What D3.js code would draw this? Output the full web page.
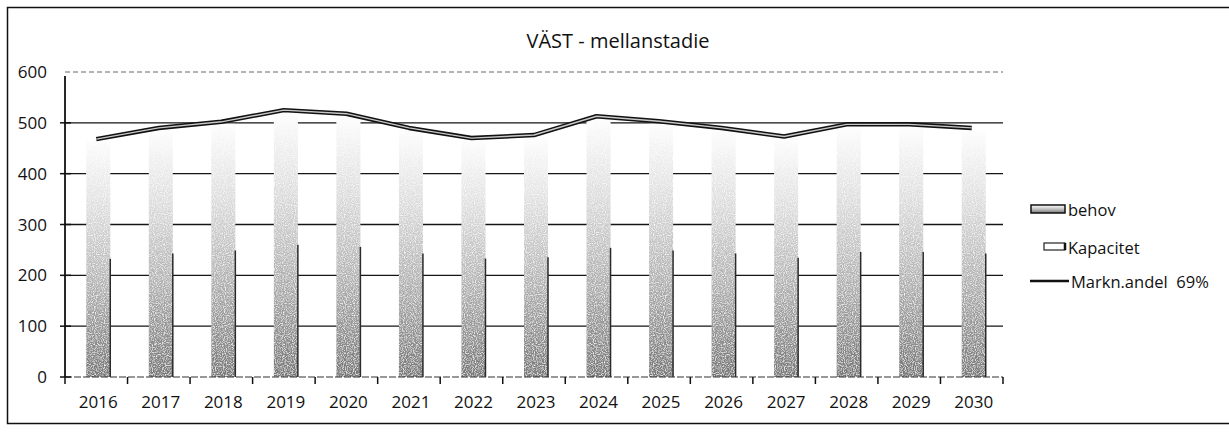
<!DOCTYPE html>
<html>
<head>
<meta charset="utf-8">
<script src="https://cdn.jsdelivr.net/npm/d3@7"></script>
<style>
  body { margin: 0; background: #fff; }
  svg { display: block; font-family: "Open Sans", "Liberation Sans", sans-serif; }
  text { white-space: pre; }
</style>
</head>
<body>
<div id="chart"></div>
<script>
// data
const years = ["2016", "2017", "2018", "2019", "2020", "2021", "2022", "2023", "2024", "2025", "2026", "2027", "2028", "2029", "2030"]
const behov = [465, 486, 498, 520, 512, 486, 466, 471, 508, 498, 486, 469, 492, 492, 486]
const kapacitet = [0, 0, 0, 0, 0, 0, 0, 0, 0, 0, 0, 0, 0, 0, 0]
const marknAndel = [468, 490, 502, 525, 518, 490, 470, 476, 513, 503, 490, 473, 497, 497, 490]
const yTicks = [0, 100, 200, 300, 400, 500, 600]

const width = 1229, height = 432
const margin = { top: 72, right: 226, bottom: 55, left: 65 }

const svg = d3.select("#chart").append("svg")
    .attr("width", width)
    .attr("height", height)

const defs = svg.append("defs")
const grad = defs.append("linearGradient")
    .attr("id", "behovFill")
    .attr("x1", 0).attr("y1", 1).attr("x2", 0).attr("y2", 0)
grad.append("stop").attr("offset", "0%").attr("stop-color", "#767676")
grad.append("stop").attr("offset", "35%").attr("stop-color", "#adadad")
grad.append("stop").attr("offset", "70%").attr("stop-color", "#dcdcdc")
grad.append("stop").attr("offset", "100%").attr("stop-color", "#fdfdfd")

// speckle texture to mimic the scanned stipple
const speck = defs.append("filter").attr("id", "speck")
    .attr("x", 0).attr("y", 0).attr("width", 1).attr("height", 1)
speck.append("feTurbulence")
    .attr("type", "fractalNoise").attr("baseFrequency", 0.9).attr("numOctaves", 1).attr("seed", 4)
    .attr("result", "noise")
speck.append("feColorMatrix").attr("in", "noise").attr("type", "matrix")
    .attr("values", "0 0 0 0 1  0 0 0 0 1  0 0 0 0 1  -2.4 0 0 0 1.35")
    .attr("result", "white")
speck.append("feComposite").attr("in", "white").attr("in2", "SourceGraphic").attr("operator", "in")
    .attr("result", "dots")
speck.append("feMerge").selectAll("feMergeNode")
    .data(["SourceGraphic", "dots"]).join("feMergeNode").attr("in", d => d)

// outer frame
svg.append("rect")
    .attr("x", 7.5).attr("y", 7.5)
    .attr("width", 1240).attr("height", 416)
    .attr("fill", "none").attr("stroke", "#111").attr("stroke-width", 1.5)

svg.append("text")
    .attr("x", 618).attr("y", 48)
    .attr("text-anchor", "middle")
    .attr("font-size", 20)
    .attr("fill", "#111")
    .text("VÄST - mellanstadie")

const x = d3.scaleBand()
    .domain(years)
    .range([margin.left, width - margin.right])

const y = d3.scaleLinear()
    .domain([0, 600])
    .range([height - margin.bottom, margin.top])

// gridlines
svg.append("g")
    .selectAll("line")
    .data(yTicks.filter(d => d > 0))
    .join("line")
    .attr("x1", margin.left).attr("x2", width - margin.right)
    .attr("y1", d => y(d)).attr("y2", d => y(d))
    .attr("stroke", d => d === 600 ? "#666" : "#151515")
    .attr("stroke-width", d => d === 600 ? 1 : 1.4)
    .attr("stroke-dasharray", d => d === 600 ? "5,3" : null)

// behov bars
const barW = 24
svg.append("g")
    .attr("filter", "url(#speck)")
    .selectAll("rect")
    .data(behov)
    .join("rect")
    .attr("x", (d, i) => x(years[i]) + x.bandwidth() / 2 - barW / 2 + 2)
    .attr("y", d => y(d))
    .attr("width", barW)
    .attr("height", d => y(0) - y(d))
    .attr("fill", "url(#behovFill)")

// dark right edge of the bars
svg.append("g")
    .selectAll("line")
    .data(behov)
    .join("line")
    .attr("x1", (d, i) => x(years[i]) + x.bandwidth() / 2 + barW / 2 + 2)
    .attr("x2", (d, i) => x(years[i]) + x.bandwidth() / 2 + barW / 2 + 2)
    .attr("y1", y(0))
    .attr("y2", d => y(d * 0.5))
    .attr("stroke", "#2a2a2a")
    .attr("stroke-width", 1.5)

// kapacitet bars (empty in the picture)
svg.append("g")
    .selectAll("rect")
    .data(kapacitet)
    .join("rect")
    .attr("x", (d, i) => x(years[i]) + x.bandwidth() / 2 + barW / 2 + 2)
    .attr("y", d => y(d))
    .attr("width", 10)
    .attr("height", d => y(0) - y(d))
    .attr("fill", "#fff")
    .attr("stroke", "none")

// x axis
const xAxis = svg.append("g")
    .attr("transform", `translate(0,${y(0)})`)
xAxis.append("line")
    .attr("x1", margin.left).attr("x2", width - margin.right)
    .attr("stroke", "#333").attr("stroke-width", 1.2)
    .attr("stroke-dasharray", "7,2")
xAxis.selectAll(".tick-mark")
    .data(years.concat(["end"]))
    .join("line")
    .attr("class", "tick-mark")
    .attr("x1", (d, i) => margin.left + i * x.bandwidth())
    .attr("x2", (d, i) => margin.left + i * x.bandwidth())
    .attr("y1", 0).attr("y2", 7)
    .attr("stroke", "#111").attr("stroke-width", 1.5)
xAxis.selectAll("text")
    .data(years)
    .join("text")
    .attr("x", d => x(d) + x.bandwidth() / 2 + 2)
    .attr("y", 31)
    .attr("text-anchor", "middle")
    .attr("font-size", 17)
    .attr("fill", "#111")
    .text(d => d)

// y axis
const yAxis = svg.append("g")
yAxis.append("line")
    .attr("x1", margin.left).attr("x2", margin.left)
    .attr("y1", y(0)).attr("y2", y(600) + 4)
    .attr("stroke", "#111").attr("stroke-width", 1.8)
yAxis.selectAll(".tick-mark")
    .data(yTicks.filter(d => d < 600))
    .join("line")
    .attr("class", "tick-mark")
    .attr("x1", margin.left - 5).attr("x2", margin.left + 6)
    .attr("y1", d => y(d)).attr("y2", d => y(d))
    .attr("stroke", "#111").attr("stroke-width", 1.5)
yAxis.selectAll("text")
    .data(yTicks)
    .join("text")
    .attr("x", 47)
    .attr("y", d => y(d) + 6)
    .attr("text-anchor", "end")
    .attr("font-size", 17)
    .attr("fill", "#111")
    .text(d => d)

// Markn.andel line
const line = d3.line()
    .x((d, i) => x(years[i]) + x.bandwidth() / 2)
    .y(d => y(d))
svg.append("path")
    .datum(marknAndel)
    .attr("d", line)
    .attr("fill", "none")
    .attr("stroke", "#111")
    .attr("stroke-width", 4.5)
    .attr("stroke-linejoin", "round")
svg.append("path")
    .datum(marknAndel)
    .attr("d", line)
    .attr("fill", "none")
    .attr("stroke", "#c8c8c8")
    .attr("stroke-width", 1.4)
    .attr("stroke-linejoin", "round")

// legend
const legend = svg.append("g").attr("font-size", 16.5).attr("fill", "#111")
legend.append("rect")
    .attr("x", 1031).attr("y", 205).attr("width", 34).attr("height", 8)
    .attr("fill", "url(#behovFill)").attr("stroke", "#111").attr("stroke-width", 1.5)
legend.append("text").attr("x", 1068).attr("y", 216).text("behov")

legend.append("rect")
    .attr("x", 1044).attr("y", 243).attr("width", 21).attr("height", 7)
    .attr("fill", "#fff").attr("stroke", "#222").attr("stroke-width", 1.2)
legend.append("line")
    .attr("x1", 1065).attr("x2", 1065).attr("y1", 243).attr("y2", 250)
    .attr("stroke", "#111").attr("stroke-width", 2.5)
legend.append("text").attr("x", 1068).attr("y", 254).text("Kapacitet")

legend.append("line")
    .attr("x1", 1030).attr("x2", 1069).attr("y1", 281).attr("y2", 281)
    .attr("stroke", "#111").attr("stroke-width", 2.5)
legend.append("text").attr("x", 1071).attr("y", 288).text("Markn.andel  69%")
</script>
</body>
</html>
